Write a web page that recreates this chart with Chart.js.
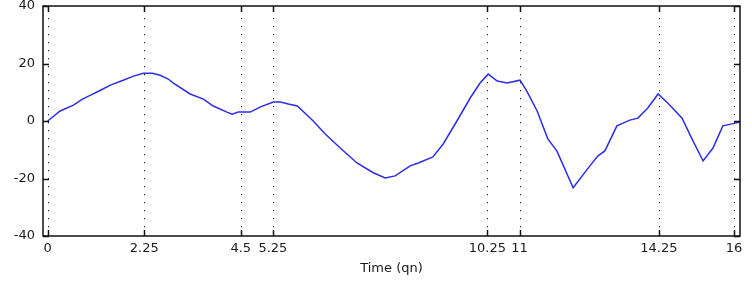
<!DOCTYPE html>
<html>
<head>
<meta charset="utf-8">
<script src="https://cdn.jsdelivr.net/npm/chart.js@4.4.1/dist/chart.umd.min.js"></script>
<style>
  html, body { margin: 0; padding: 0; background: #fff; }
  #wrap { width: 752px; height: 282px; }
</style>
</head>
<body>
<div id="wrap"><canvas id="myChart" width="752" height="282"></canvas></div>
<script>
// time in quarter notes, and the traced curve values
var timeQn = [0, 0.29, 0.6, 0.81, 1.0, 1.23, 1.46, 1.76, 2.0, 2.23, 2.44, 2.62, 2.81, 2.93,
  3.32, 3.63, 3.86, 4.18, 4.3, 4.44, 4.72, 4.96, 5.26, 5.42, 5.61, 5.82, 6.19, 6.47,
  6.82, 7.21, 7.59, 7.87, 8.1, 8.45, 8.64, 8.98, 9.22, 9.54, 9.85, 10.08, 10.27,
  10.48, 10.71, 11.01, 11.17, 11.41, 11.66, 11.87, 12.25, 12.64, 12.83, 12.99, 13.27,
  13.57, 13.76, 13.99, 14.23, 14.46, 14.79, 15.02, 15.28, 15.51, 15.74, 15.95, 16.14];
var values = [0, 3.5, 5.5, 7.6, 9.0, 10.7, 12.5, 14.2, 15.6, 16.6, 16.6, 15.9, 14.6, 13.2,
  9.4, 7.6, 5.2, 3.1, 2.4, 3.1, 3.1, 4.9, 6.6, 6.6, 5.9, 5.2, 0, -4.5,
  -9.4, -14.6, -18.0, -19.8, -19.1, -15.6, -14.6, -12.5, -8.0, 0, 8.0, 13.2, 16.3,
  13.9, 13.2, 14.2, 10.4, 3.5, -6.2, -10.4, -23.2, -15.6, -12.1, -10.4, -1.7,
  0.3, 1.0, 4.5, 9.4, 6.2, 1.0, -6.2, -13.9, -9.4, -1.7, -1.0, -0.3];

var xTicks = [0, 2.25, 4.5, 5.25, 10.25, 11, 14.25, 16];
var yTicks = [-40, -20, 0, 20, 40];

var pts = [];
for (var i = 0; i < timeQn.length; i++) {
  pts.push({x: timeQn[i], y: values[i]});
}

// matlab style box, inward ticks and dotted lines at the x ticks
var boxPlugin = {
  id: 'box',
  beforeDatasetsDraw: function(chart) {
    var ctx = chart.ctx, a = chart.chartArea;
    var xs = chart.scales.x;
    ctx.save();
    ctx.fillStyle = '#222';
    xTicks.forEach(function(t) {
      var px = Math.round(xs.getPixelForValue(t));
      for (var y = a.top + 4; y < a.bottom - 2; y += 8) {
        ctx.fillRect(px, y, 1, 1.3);
      }
    });
    ctx.restore();
  },
  afterDatasetsDraw: function(chart) {
    var ctx = chart.ctx, a = chart.chartArea;
    var xs = chart.scales.x, ys = chart.scales.y;
    ctx.save();
    ctx.strokeStyle = '#111';
    ctx.lineWidth = 1.5;
    ctx.strokeRect(a.left, a.top, a.right - a.left, a.bottom - a.top);
    ctx.beginPath();
    xTicks.forEach(function(t) {
      var px = Math.round(xs.getPixelForValue(t)) + 0.5;
      ctx.moveTo(px, a.bottom); ctx.lineTo(px, a.bottom - 6);
      ctx.moveTo(px, a.top); ctx.lineTo(px, a.top + 6);
    });
    yTicks.forEach(function(t) {
      var py = Math.round(ys.getPixelForValue(t)) + 0.5;
      ctx.moveTo(a.left, py); ctx.lineTo(a.left + 6, py);
      ctx.moveTo(a.right, py); ctx.lineTo(a.right - 6, py);
    });
    ctx.stroke();
    ctx.restore();
  }
};

var ctx = document.getElementById('myChart').getContext('2d');
var chart = new Chart(ctx, {
  type: 'scatter',
  data: {
    datasets: [{
      data: pts,
      showLine: true,
      borderColor: 'rgb(45,45,230)',
      borderWidth: 1.5,
      pointRadius: 0,
      tension: 0
    }]
  },
  options: {
    responsive: false,
    animation: false,
    layout: { padding: { left: 0, top: 6, right: 12, bottom: 0 } },
    plugins: { legend: { display: false }, tooltip: { enabled: false } },
    scales: {
      x: {
        type: 'linear',
        min: -0.11,
        max: 16.14,
        afterBuildTicks: function(s) { s.ticks = xTicks.map(function(v) { return {value: v}; }); },
        afterFit: function(s) { s.height = 46; s.paddingLeft = 0; s.paddingRight = 0; },
        grid: { display: false, drawTicks: false },
        border: { display: false },
        ticks: {
          padding: 5,
          color: '#1a1a1a',
          font: { family: 'DejaVu Sans', size: 13 },
          autoSkip: false,
          maxRotation: 0,
          callback: function(v) { return String(v); }
        },
        title: {
          display: true,
          text: 'Time (qn)',
          color: '#1a1a1a',
          font: { family: 'DejaVu Sans', size: 13 },
          padding: { top: 1, bottom: 6 }
        }
      },
      y: {
        min: -40,
        max: 40,
        afterBuildTicks: function(s) { s.ticks = yTicks.map(function(v) { return {value: v}; }); },
        afterFit: function(s) { s.width = 43; s.paddingTop = 0; s.paddingBottom = 0; },
        grid: { display: false, drawTicks: false },
        border: { display: false },
        ticks: {
          padding: 8,
          color: '#1a1a1a',
          font: { family: 'DejaVu Sans', size: 13 }
        }
      }
    }
  },
  plugins: [boxPlugin]
});
</script>
</body>
</html>
